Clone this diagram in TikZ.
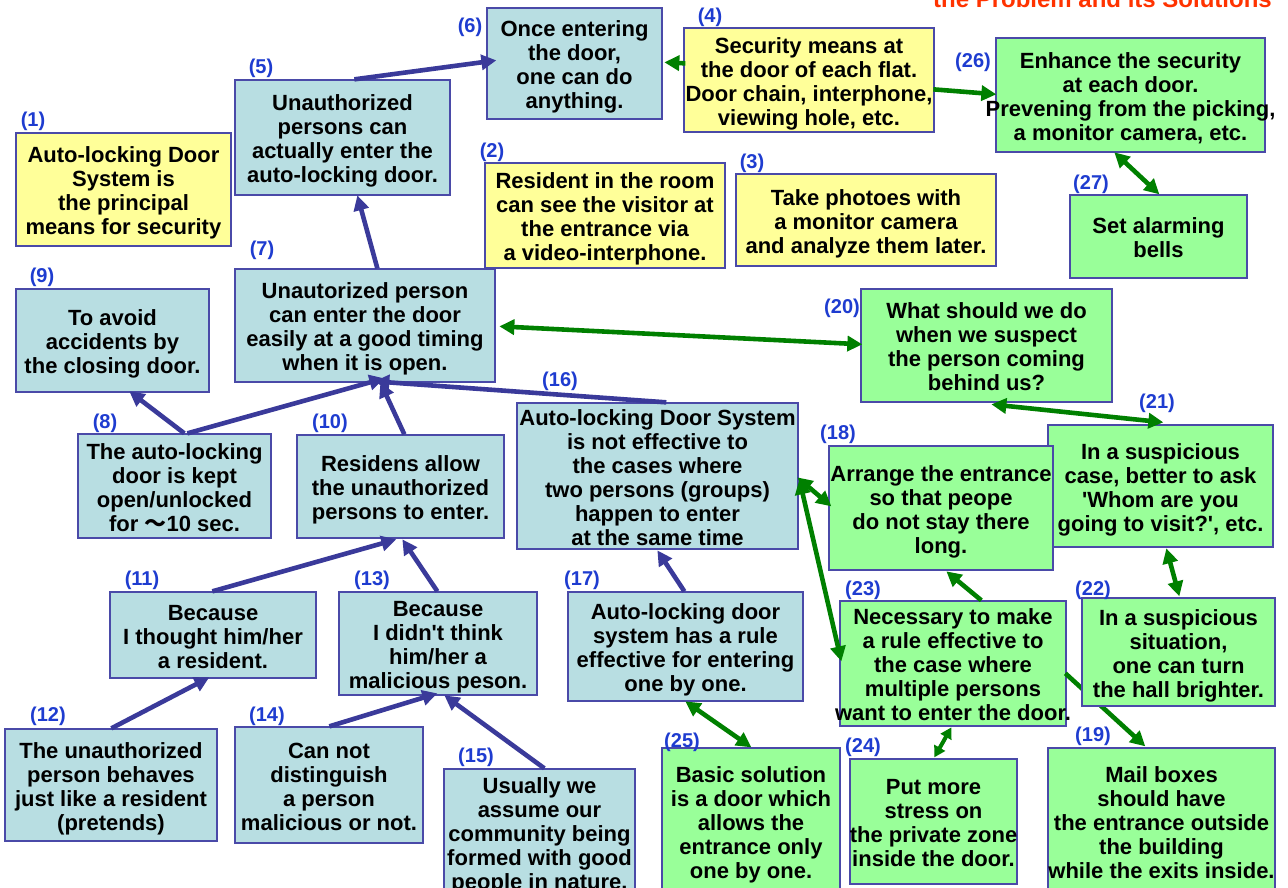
\documentclass[tikz,border=0pt]{standalone}
\usepackage{fontspec}
\setmainfont{Liberation Sans}
\newfontfamily\cjk{Noto Sans CJK JP}
\usetikzlibrary{arrows.meta}
\definecolor{bcol}{HTML}{B8DEE2}
\definecolor{ycol}{HTML}{FFFF99}
\definecolor{gcol}{HTML}{99FF99}
\definecolor{edgec}{HTML}{4A4AA8}
\definecolor{labcol}{HTML}{1E3CD0}
\definecolor{barc}{HTML}{3A3A9A}
\definecolor{garc}{HTML}{008000}
\definecolor{titlec}{HTML}{FF3300}
\newcommand{\boxtext}[1]{\makebox[0pt][c]{\raisebox{-9.5pt}{\begin{tabular}{@{}c@{}}#1\end{tabular}}}}
\begin{document}
\begin{tikzpicture}[x=1pt,y=-1pt,
  box/.style={draw=edgec, line width=1.3pt, inner sep=0pt, text=black,
    text height=0pt, text depth=0pt,
    font=\fontsize{22}{24}\selectfont\bfseries},
  sz/.style 2 args={minimum width=#1pt, minimum height=#2pt},
  bluebox/.style={box, fill=bcol},
  yelbox/.style={box, fill=ycol},
  grnbox/.style={box, fill=gcol},
  lab/.style={text=labcol, inner sep=0pt, font=\fontsize{20}{22}\selectfont\bfseries},
  barrow/.style={draw=barc, line width=4.6pt, -{Triangle[length=15pt,width=15pt]}},
  garrow/.style={draw=garc, line width=4.6pt, -{Triangle[length=15pt,width=15pt]}},
  gdarrow/.style={draw=garc, line width=4.6pt, {Triangle[length=15pt,width=15pt]}-{Triangle[length=15pt,width=15pt]}},
  gsarrow/.style={draw=garc, line width=4pt, {Triangle[length=11pt,width=12pt]}-{Triangle[length=11pt,width=12pt]}}
]
\useasboundingbox (0,0) rectangle (1288,888);
\fill[white] (0,0) rectangle (1288,888);

\node[text=titlec, anchor=base east, inner sep=0pt, font=\fontsize{24}{26}\selectfont\bfseries] (title) at (1272,8) {the Problem and its Solutions};

% boxes
\node[bluebox, sz={175}{111}] (n6) at (574.5,63.5) {\boxtext{Once entering\\the door,\\one can do\\anything.}};
\node[yelbox, sz={250}{104}] (n4) at (809,80) {\boxtext{Security means at\\the door of each flat.\\Door chain, interphone,\\viewing hole, etc.}};
\node[grnbox, sz={269}{114}] (n26) at (1130.5,95) {\boxtext{Enhance the security\\at each door.\\Prevening from the picking,\\a monitor camera, etc.}};
\node[grnbox, sz={177}{83}] (n27) at (1158.5,236.5) {\boxtext{Set alarming\\bells}};
\node[bluebox, sz={215}{115}] (n5) at (342.5,137.5) {\boxtext{Unauthorized\\persons can\\actually enter the\\auto-locking door.}};
\node[yelbox, sz={215}{113}] (n1) at (123.5,189.5) {\boxtext{Auto-locking Door\\System is\\the principal\\means for security}};
\node[yelbox, sz={240}{105}] (n2) at (605,215.5) {\boxtext{Resident in the room\\can see the visitor at\\the entrance via\\a video-interphone.}};
\node[yelbox, sz={260}{92}] (n3) at (866,220) {\boxtext{Take photoes with\\a monitor camera\\and analyze them later.}};
\node[bluebox, sz={260}{113}] (n7) at (365,325.5) {\boxtext{Unautorized person\\can enter the door\\easily at a good timing\\when it is open.}};
\node[bluebox, sz={193}{103}] (n9) at (112.5,340.5) {\boxtext{To avoid\\accidents by\\the closing door.}};
\node[grnbox, sz={251}{113}] (n20) at (986.5,345.5) {\boxtext{What should we do\\when we suspect\\the person coming\\behind us?}};
\node[bluebox, sz={193}{104}] (n8) at (174.5,486) {\boxtext{The auto-locking\\door is kept\\open/unlocked\\for {\cjk ～}10 sec.}};
\node[bluebox, sz={207}{103}] (n10) at (400.5,486.5) {\boxtext{Residens allow\\the unauthorized\\persons to enter.}};
\node[bluebox, sz={281}{146}] (n16) at (657.5,476) {\boxtext{Auto-locking Door System\\is not effective to\\the cases where\\two persons (groups)\\happen to enter\\at the same time}};
\node[grnbox, sz={225}{122}] (n21) at (1160.5,486) {\boxtext{In a suspicious\\case, better to ask\\\textquotesingle Whom are you\\going to visit?\textquotesingle, etc.}};
\node[grnbox, sz={224}{124}] (n18) at (941,508) {\boxtext{Arrange the entrance\\so that peope\\do not stay there\\long.}};
\node[bluebox, sz={206}{86}] (n11) at (213,635) {\boxtext{Because\\I thought him/her\\a resident.}};
\node[bluebox, sz={198}{103}] (n13) at (438,643.5) {\boxtext{Because\\I didn\textquotesingle t think\\him/her a\\malicious peson.}};
\node[bluebox, sz={235}{109}] (n17) at (685.5,646.5) {\boxtext{Auto-locking door\\system has a rule\\effective for entering\\one by one.}};
\node[grnbox, sz={226}{125}] (n23) at (953,663.5) {\boxtext{Necessary to make\\a rule effective to\\the case where\\multiple persons\\want to enter the door.}};
\node[bluebox, sz={212}{112}] (n12) at (111,785) {\boxtext{The unauthorized\\person behaves\\just like a resident\\(pretends)}};
\node[bluebox, sz={188}{116}] (n14) at (329,785) {\boxtext{Can not\\distinguish\\a person\\malicious or not.}};
\node[bluebox, sz={191}{126}] (n15) at (539.5,832) {\boxtext{Usually we\\assume our\\community being\\formed with good\\people in nature.}};
\node[grnbox, sz={178}{146}] (n25) at (751,821) {\boxtext{Basic solution\\is a door which\\allows the\\entrance only\\one by one.}};
\node[grnbox, sz={167}{125}] (n24) at (933.5,821.5) {\boxtext{Put more\\stress on\\the private zone\\inside the door.}};
\node[grnbox, sz={227}{146}] (n19) at (1161.5,821) {\boxtext{Mail boxes\\should have\\the entrance outside\\the building\\while the exits inside.}};

% connector passing behind box (22)
\draw[garrow] ([shift={(226,73)}]n23.north west) -- ([shift={(98,-1)}]n19.north west);

\node[grnbox, sz={193}{108}] (n22) at (1178.5,652) {\boxtext{In a suspicious\\situation,\\one can turn\\the hall brighter.}};

% blue connectors
\draw[barrow] ([shift={(120,0)}]n5.north west) -- ([shift={(10,53)}]n6.north west);
\draw[barrow] ([shift={(143,0)}]n7.north west) -- ([shift={(123,116)}]n5.north west);
\draw[barrow] ([shift={(107,0)}]n8.north west) -- ([shift={(114,103)}]n9.north west);
\draw[barrow] ([shift={(110,0)}]n8.north west) -- ([shift={(150,110)}]n7.north west);
\draw[barrow] ([shift={(108,0)}]n10.north west) -- ([shift={(146,114)}]n7.north west);
\draw[barrow] ([shift={(150,0)}]n16.north west) -- ([shift={(140,113)}]n7.north west);
\draw[barrow] ([shift={(103,0)}]n11.north west) -- ([shift={(100,105)}]n10.north west);
\draw[barrow] ([shift={(99,0)}]n13.north west) -- ([shift={(106,105)}]n10.north west);
\draw[barrow] ([shift={(107,0)}]n12.north west) -- ([shift={(100,86)}]n11.north west);
\draw[barrow] ([shift={(95,0)}]n14.north west) -- ([shift={(99,102)}]n13.north west);
\draw[barrow] ([shift={(101,0)}]n15.north west) -- ([shift={(106,104)}]n13.north west);
\draw[barrow] ([shift={(117,0)}]n17.north west) -- ([shift={(141,148)}]n16.north west);

% green connectors
\draw[garrow] ([shift={(2,36)}]n4.north west) -- ([shift={(178,55)}]n6.north west);
\draw[garrow] ([shift={(250,62)}]n4.north west) -- ([shift={(1,57)}]n26.north west);
\draw[gdarrow] ([shift={(119,115)}]n26.north west) -- ([shift={(90,0)}]n27.north west);
\draw[gdarrow] ([shift={(265,58)}]n7.north west) -- ([shift={(2,56)}]n20.north west);
\draw[gdarrow] ([shift={(131,116)}]n20.north west) -- ([shift={(116,-2)}]n21.north west);
\draw[gdarrow] ([shift={(119,124)}]n21.north west) -- ([shift={(98,-1)}]n22.north west);
\draw[gdarrow] ([shift={(281,75)}]n16.north west) -- ([shift={(3,61)}]n18.north west);
\draw[gdarrow] ([shift={(283,77)}]n16.north west) -- ([shift={(2,61)}]n23.north west);
\draw[garrow] ([shift={(142,0)}]n23.north west) -- ([shift={(118,126)}]n18.north west);
\draw[gsarrow] ([shift={(112,127)}]n23.north west) -- ([shift={(85,-1)}]n24.north west);
\draw[gdarrow] ([shift={(118,110)}]n17.north west) -- ([shift={(90,0)}]n25.north west);

% labels
\node[lab] (l1) at (33,121) {(1)};
\node[lab] (l2) at (492,152) {(2)};
\node[lab] (l3) at (752,163) {(3)};
\node[lab] (l4) at (710,17) {(4)};
\node[lab] (l5) at (261,68) {(5)};
\node[lab] (l6) at (470,27) {(6)};
\node[lab] (l7) at (262,250) {(7)};
\node[lab] (l8) at (105,423) {(8)};
\node[lab] (l9) at (42,277) {(9)};
\node[lab] (l10) at (330,423) {(10)};
\node[lab] (l11) at (142,580) {(11)};
\node[lab] (l12) at (48,716) {(12)};
\node[lab] (l13) at (372,580) {(13)};
\node[lab] (l14) at (267,716) {(14)};
\node[lab] (l15) at (476,757) {(15)};
\node[lab] (l16) at (560,381) {(16)};
\node[lab] (l17) at (582,580) {(17)};
\node[lab] (l18) at (838,434) {(18)};
\node[lab] (l19) at (1093,736) {(19)};
\node[lab] (l20) at (842,308) {(20)};
\node[lab] (l21) at (1157,403) {(21)};
\node[lab] (l22) at (1093,590) {(22)};
\node[lab] (l23) at (863,590) {(23)};
\node[lab] (l24) at (863,747) {(24)};
\node[lab] (l25) at (682,742) {(25)};
\node[lab] (l26) at (973,62) {(26)};
\node[lab] (l27) at (1091,184) {(27)};
\end{tikzpicture}
\end{document}
